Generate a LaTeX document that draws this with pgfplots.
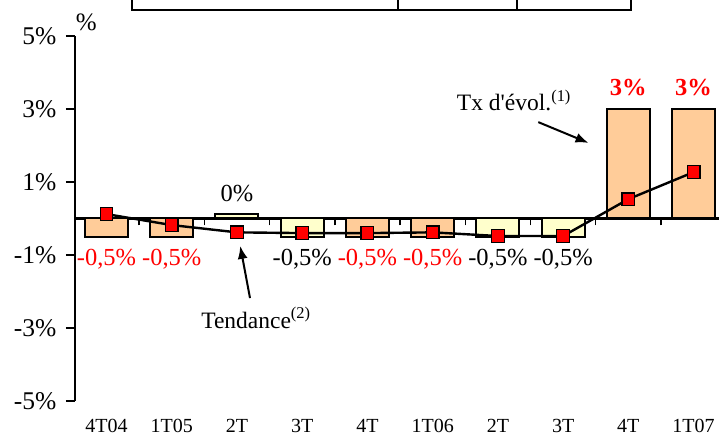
\documentclass[border=0pt]{standalone}
\usepackage{pgfplots}
\pgfplotsset{compat=1.18}
\usetikzlibrary{arrows.meta}
\usepackage{fontspec}
\setmainfont{Liberation Serif}
\definecolor{barorange}{HTML}{FFCC99}
\definecolor{baryellow}{HTML}{FFFFCC}
\begin{document}
\begin{tikzpicture}
\path[use as bounding box] (-75pt,-38pt) rectangle (644pt,401pt);
% zero line with boundary ticks
\begin{axis}[
  width=644pt, height=365pt, scale only axis,
  xmin=-0.483, xmax=9.39, ymin=-5, ymax=5,
  axis x line=middle, axis y line=none,
  x axis line style={-, line width=2.2pt},
  xtick={0.5,1.5,...,8.5}, xticklabels={},
  xtick align=outside, major tick length=7pt,
  xtick style={line width=1.5pt, black},
]
\addplot[draw=none] coordinates {(0,0)};
\end{axis}
\begin{axis}[
  width=644pt, height=365pt, scale only axis,
  xmin=-0.483, xmax=9.39, ymin=-5, ymax=5,
  clip=false,
  axis y line*=left, axis x line*=bottom,
  axis line style={-},
  x axis line style={draw=none},
  y axis line style={line width=2.5pt},
  xtick={0,...,9},
  xticklabels={4T04,1T05,2T,3T,4T,1T06,2T,3T,4T,1T07},
  xtick style={draw=none},
  xticklabel style={font=\fontsize{20}{23}\selectfont, yshift=-6pt},
  ytick={-5,-3,-1,1,3,5},
  yticklabels={-5\%,-3\%,-1\%,1\%,3\%,5\%},
  ytick align=outside, major tick length=9pt,
  ytick style={line width=2.5pt, black},
  yticklabel style={font=\fontsize{25.5}{29}\selectfont, xshift=-6pt},
  ybar, bar width=0.66,
]
\addplot[bar shift=0pt, fill=barorange, draw=black, line width=2pt,
  nodes near coords={-0,5\%}, nodes near coords align={vertical},
  every node near coord/.append style={text=red, font=\fontsize{24.5}{28}\selectfont, inner ysep=11pt, inner xsep=0pt}]
  coordinates {(0,-0.5) (1,-0.5) (4,-0.5) (5,-0.5)};
\addplot[bar shift=0pt, fill=baryellow, draw=black, line width=2pt,
  nodes near coords={-0,5\%}, nodes near coords align={vertical},
  every node near coord/.append style={text=black, font=\fontsize{24.5}{28}\selectfont, inner ysep=11pt, inner xsep=0pt}]
  coordinates {(3,-0.5) (6,-0.5) (7,-0.5)};
\addplot[bar shift=0pt, fill=baryellow, draw=black, line width=2pt,
  nodes near coords={0\%}, nodes near coords align={vertical},
  every node near coord/.append style={text=black, font=\fontsize{24.5}{28}\selectfont, inner ysep=12pt, inner xsep=0pt}]
  coordinates {(2,0.11)};
\addplot[bar shift=0pt, fill=barorange, draw=black, line width=2pt,
  nodes near coords={\textbf{3\%}}, nodes near coords align={vertical},
  every node near coord/.append style={text=red, font=\fontsize{24.5}{28}\selectfont, inner ysep=12pt, inner xsep=0pt}]
  coordinates {(8,3) (9,3)};
\addplot[sharp plot, black, line width=2.4pt, mark=square*, mark size=6.3pt,
  mark options={fill=red, draw=black, line width=1.3pt}]
  coordinates {(0,0.12) (1,-0.18) (2,-0.38) (3,-0.4) (4,-0.4) (5,-0.38) (6,-0.48) (7,-0.48) (8,0.53) (9,1.27)};
% annotations
\node[anchor=base west, font=\fontsize{23.5}{27}\selectfont, inner sep=0pt] at (axis cs:5.37,2.97) {Tx d\textquotesingle évol.\textsuperscript{(1)}};
\draw[-{Latex[length=13pt,width=10pt]}, line width=2pt] (axis cs:6.62,2.64) -- (axis cs:7.39,2.07);
\node[anchor=base west, font=\fontsize{23.5}{27}\selectfont, inner sep=0pt] at (axis cs:1.45,-3.0) {Tendance\textsuperscript{(2)}};
\draw[-{Latex[length=13pt,width=10pt]}, line width=2pt] (axis cs:2.20,-2.18) -- (axis cs:2.05,-0.75);
\node[font=\fontsize{25}{29}\selectfont] at (axis cs:-0.31,5.36) {\%};
% table fragment at top
\draw[line width=2pt] (axis cs:0.39,6.5) -- (axis cs:0.39,5.71) -- (axis cs:8.04,5.71) -- (axis cs:8.04,6.5);
\draw[line width=2pt] (axis cs:4.47,5.71) -- (axis cs:4.47,6.5);
\draw[line width=2pt] (axis cs:6.30,5.71) -- (axis cs:6.30,6.5);
\end{axis}
\end{tikzpicture}
\end{document}
